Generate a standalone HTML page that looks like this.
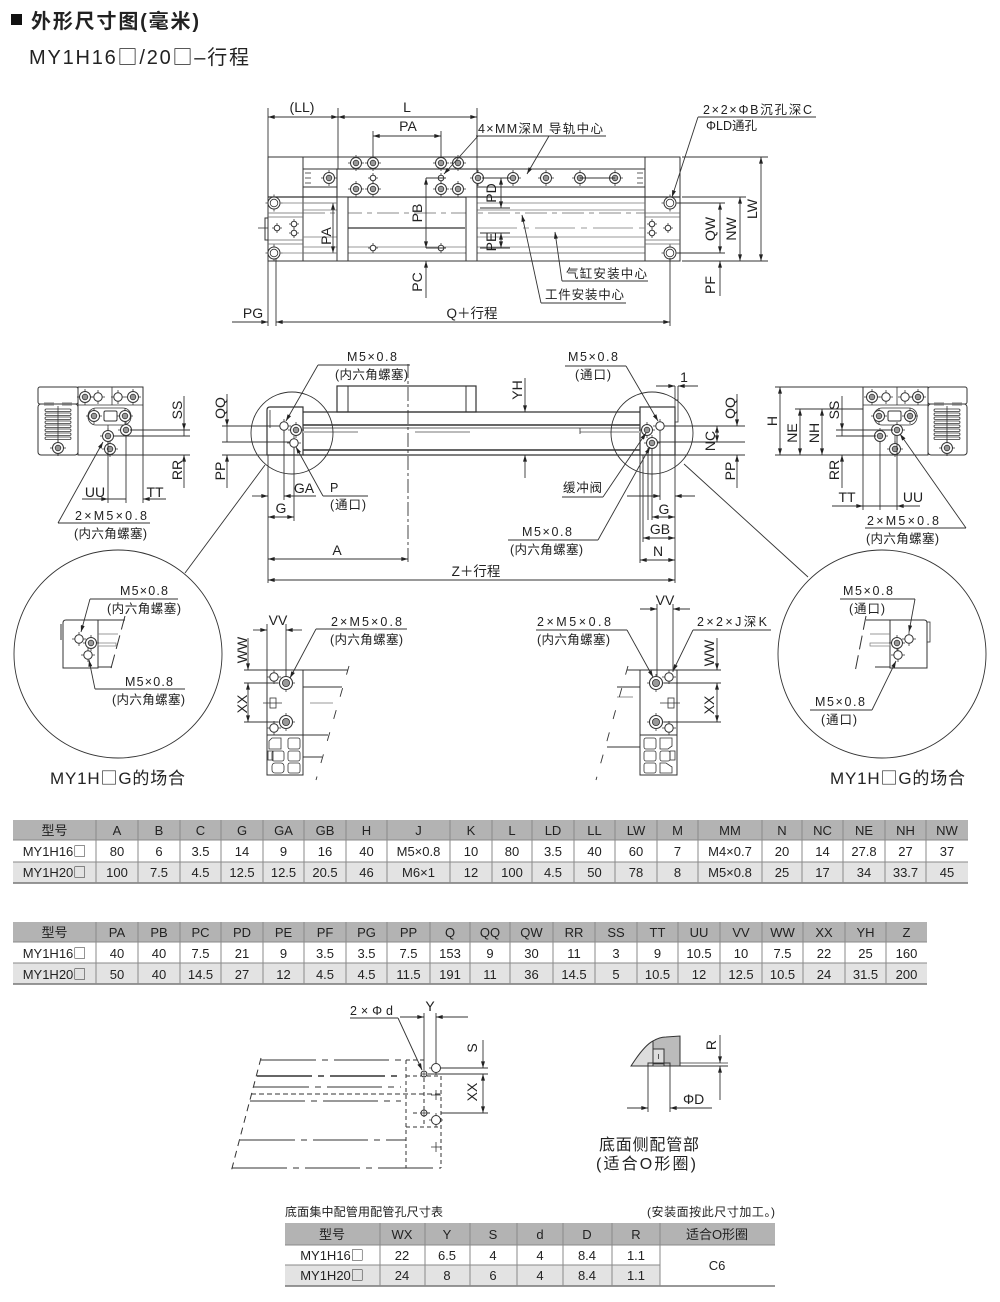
<!DOCTYPE html>
<html><head><meta charset="utf-8"><style>
html,body{margin:0;padding:0;background:#fff;}
svg{display:block;}
text{font-family:"Liberation Sans","Noto Sans CJK SC",sans-serif;fill:#222;}
.bx{font-family:"Noto Sans CJK SC",sans-serif;}
</style></head><body>
<svg width="1000" height="1302" viewBox="0 0 1000 1302" xmlns="http://www.w3.org/2000/svg">
<defs>
<marker id="a" viewBox="0 0 10 6" refX="10" refY="3" markerWidth="8" markerHeight="4" orient="auto-start-reverse" markerUnits="userSpaceOnUse"><path d="M0,0L10,3L0,6z" fill="#222"/></marker>
<g id="sk"><circle r="5.5" fill="#fff" stroke="#333" stroke-width="1"/><circle r="2.8" fill="#999" stroke="#333" stroke-width=".8"/><path d="M-8,0h2.5M5.5,0h2.5M0,-8v2.5M0,5.5v2.5" stroke="#333" stroke-width=".8"/></g>
<g id="sk2"><circle r="6.5" fill="#fff" stroke="#333" stroke-width="1.1"/><circle r="3.6" fill="#999" stroke="#333" stroke-width=".8"/><path d="M-9,0h2.5M6.5,0h2.5M0,-9v2.5M0,6.5v2.5" stroke="#333" stroke-width=".8"/></g>
<g id="ph"><circle r="4.2" fill="#fff" stroke="#333" stroke-width="1"/><path d="M-7,0h2.8M4.2,0h2.8M0,-7v2.8M0,4.2v2.8" stroke="#333" stroke-width=".8"/></g>
<g id="pd"><circle r="2.8" fill="#fff" stroke="#333" stroke-width="1"/><path d="M-5,0h2.2M2.8,0h2.2M0,-5v2.2M0,2.8v2.2" stroke="#333" stroke-width=".8"/></g>
<g id="bh"><circle r="6" fill="#fff" stroke="#333" stroke-width="1"/><circle r="3.8" fill="none" stroke="#333" stroke-width=".8"/><path d="M-8.5,0h2.5M6,0h2.5M0,-8.5v2.5M0,6v2.5" stroke="#333" stroke-width=".8"/></g>
</defs>

<!-- Header -->
<rect x="11" y="14" width="11" height="11" fill="#111"/>
<text x="31" y="28" font-size="20" font-weight="bold" textLength="168">外形尺寸图(毫米)</text>
<text x="29" y="64" font-size="20" textLength="220">MY1H16<tspan class="bx">□</tspan>/20<tspan class="bx">□</tspan>–行程</text>

<!-- ================= TOP VIEW ================= -->
<g stroke="#333" stroke-width="1" fill="none">
  <rect x="268" y="157" width="412" height="104"/>
  <line x1="303" y1="157" x2="303" y2="261"/>
  <line x1="645" y1="157" x2="645" y2="261"/>
  <line x1="268" y1="197" x2="680" y2="197" stroke-width="1.3"/>
  <line x1="303" y1="169" x2="645" y2="169"/>
  <line x1="303" y1="187" x2="645" y2="187"/>
  <line x1="303" y1="203" x2="337" y2="203" stroke="#777" stroke-width=".8"/>
  <line x1="477" y1="203" x2="645" y2="203" stroke="#777" stroke-width=".8"/>
  <line x1="303" y1="210" x2="337" y2="210" stroke="#777" stroke-width=".8"/>
  <line x1="477" y1="210" x2="645" y2="210" stroke="#777" stroke-width=".8"/>
  <line x1="348" y1="228" x2="465" y2="228" stroke-width="1.3"/>
  <line x1="477" y1="228" x2="645" y2="228" stroke="#777" stroke-width=".8" stroke-dasharray="40 6 6 6"/>
  <line x1="303" y1="213" x2="645" y2="213" stroke="#666" stroke-width=".8" stroke-dasharray="22 5 5 5"/>
  <line x1="303" y1="237" x2="337" y2="237" stroke="#777" stroke-width=".8"/>
  <line x1="477" y1="237" x2="645" y2="237" stroke="#777" stroke-width=".8"/>
  <line x1="303" y1="247" x2="645" y2="247" stroke="#777" stroke-width=".8"/>
  <line x1="303" y1="253" x2="645" y2="253" stroke="#555" stroke-width=".8"/>
  <line x1="268" y1="213" x2="303" y2="213" stroke="#666" stroke-width=".8"/>
  <line x1="268" y1="217" x2="303" y2="217" stroke="#666" stroke-width=".8"/>
  <line x1="268" y1="240" x2="303" y2="240" stroke="#666" stroke-width=".8"/>
  <line x1="268" y1="244" x2="303" y2="244" stroke="#666" stroke-width=".8"/>
  <line x1="645" y1="213" x2="680" y2="213" stroke="#666" stroke-width=".8"/>
  <line x1="645" y1="217" x2="680" y2="217" stroke="#666" stroke-width=".8"/>
  <line x1="645" y1="240" x2="680" y2="240" stroke="#666" stroke-width=".8"/>
  <line x1="645" y1="244" x2="680" y2="244" stroke="#666" stroke-width=".8"/>
  <rect x="265" y="218" width="3" height="22"/>
  <line x1="258" y1="228" x2="268" y2="228" stroke-width=".8"/>
  <line x1="305" y1="173" x2="311" y2="173" stroke-width=".8"/>
  <line x1="305" y1="178" x2="311" y2="178" stroke-width=".8"/>
  <line x1="305" y1="183" x2="311" y2="183" stroke-width=".8"/>
  <line x1="637" y1="173" x2="643" y2="173" stroke-width=".8"/>
  <line x1="637" y1="178" x2="643" y2="178" stroke-width=".8"/>
  <line x1="637" y1="183" x2="643" y2="183" stroke-width=".8"/>
  <rect x="337" y="169" width="140" height="28" fill="#fff" stroke-width="1.1"/>
  <rect x="337" y="197" width="11" height="64" fill="#fff"/>
  <rect x="466" y="197" width="11" height="64" fill="#fff"/>
</g>
<use href="#sk" x="356" y="163"/><use href="#sk" x="373" y="163"/><use href="#sk" x="441" y="163"/><use href="#sk" x="458" y="163"/>
<use href="#sk" x="356" y="189"/><use href="#sk" x="373" y="189"/><use href="#sk" x="441" y="189"/><use href="#sk" x="458" y="189"/>
<use href="#pd" x="373" y="178"/><use href="#pd" x="441" y="178"/>
<use href="#pd" x="373" y="248"/><use href="#pd" x="441" y="248"/>
<use href="#sk" x="329" y="178"/><use href="#sk" x="478" y="178"/><use href="#sk" x="513" y="178"/><use href="#sk" x="546" y="178"/><use href="#sk" x="580" y="178"/><use href="#sk" x="615" y="178"/>
<line x1="580" y1="178" x2="615" y2="178" stroke="#333" stroke-width="1"/>
<use href="#bh" x="274" y="203"/><use href="#bh" x="274" y="253"/>
<use href="#bh" x="670" y="203"/><use href="#bh" x="670" y="253"/>
<use href="#pd" x="277" y="228"/><use href="#pd" x="294" y="224"/><use href="#pd" x="294" y="233"/>
<use href="#pd" x="668" y="228"/><use href="#pd" x="652" y="224"/><use href="#pd" x="652" y="233"/>

<g stroke="#333" stroke-width=".9" fill="none">
  <line x1="268" y1="108" x2="268" y2="157"/>
  <line x1="338" y1="108" x2="338" y2="169"/>
  <line x1="477" y1="108" x2="477" y2="169"/>
  <line x1="268" y1="117" x2="338" y2="117" marker-start="url(#a)" marker-end="url(#a)"/>
  <line x1="338" y1="117" x2="477" y2="117" marker-start="url(#a)" marker-end="url(#a)"/>
  <line x1="373" y1="131" x2="373" y2="158"/>
  <line x1="441" y1="131" x2="441" y2="158"/>
  <line x1="373" y1="136" x2="441" y2="136" marker-start="url(#a)" marker-end="url(#a)"/>
  <line x1="476" y1="136" x2="606" y2="136"/>
  <line x1="478" y1="136" x2="444" y2="174" marker-end="url(#a)"/>
  <line x1="549" y1="136" x2="527" y2="174" marker-end="url(#a)"/>
  <line x1="698" y1="117" x2="816" y2="117"/>
  <line x1="698" y1="117" x2="672" y2="197" marker-end="url(#a)"/>
  <line x1="682" y1="157" x2="768" y2="157"/>
  <line x1="682" y1="197" x2="746" y2="197"/>
  <line x1="677" y1="203" x2="725" y2="203"/>
  <line x1="677" y1="253" x2="725" y2="253"/>
  <line x1="682" y1="261" x2="768" y2="261"/>
  <line x1="720" y1="203" x2="720" y2="253" marker-start="url(#a)" marker-end="url(#a)"/>
  <line x1="740" y1="197" x2="740" y2="261" marker-start="url(#a)" marker-end="url(#a)"/>
  <line x1="761" y1="157" x2="761" y2="261" marker-start="url(#a)" marker-end="url(#a)"/>
  <line x1="720" y1="296" x2="720" y2="261" marker-end="url(#a)"/>
  <line x1="333" y1="203" x2="333" y2="253" marker-start="url(#a)" marker-end="url(#a)"/>
  <line x1="280" y1="203" x2="337" y2="203" stroke="#777" stroke-width=".7"/>
  <line x1="280" y1="253" x2="337" y2="253" stroke="#777" stroke-width=".7"/>
  <line x1="426" y1="178" x2="446" y2="178"/>
  <line x1="426" y1="178" x2="426" y2="248" marker-start="url(#a)" marker-end="url(#a)"/>
  <line x1="426" y1="248" x2="446" y2="248"/>
  <line x1="426" y1="298" x2="426" y2="261" marker-end="url(#a)"/>
  <line x1="482" y1="178" x2="510" y2="178"/>
  <line x1="480" y1="208" x2="510" y2="208"/>
  <line x1="480" y1="233" x2="510" y2="233"/>
  <line x1="480" y1="248" x2="510" y2="248"/>
  <line x1="501" y1="178" x2="501" y2="208" marker-start="url(#a)" marker-end="url(#a)"/>
  <line x1="501" y1="233" x2="501" y2="248" marker-start="url(#a)" marker-end="url(#a)"/>
  <line x1="562" y1="281" x2="648" y2="281"/>
  <line x1="562" y1="281" x2="555" y2="232" marker-end="url(#a)"/>
  <line x1="541" y1="303" x2="626" y2="303"/>
  <line x1="541" y1="303" x2="522" y2="215" marker-end="url(#a)"/>
  <line x1="268" y1="261" x2="268" y2="326"/>
  <line x1="276" y1="258" x2="276" y2="326"/>
  <line x1="670" y1="258" x2="670" y2="326"/>
  <line x1="276" y1="322" x2="670" y2="322" marker-start="url(#a)" marker-end="url(#a)"/>
  <line x1="232" y1="322" x2="268" y2="322" marker-end="url(#a)"/>
</g>
<g font-size="14" text-anchor="middle">
  <text x="302" y="112">(LL)</text>
  <text x="407" y="112">L</text>
  <text x="408" y="131">PA</text>
  <text x="472" y="318" font-size="13.5">Q＋行程</text>
  <text x="253" y="318">PG</text>
  <text transform="translate(331,236) rotate(-90)">PA</text>
  <text transform="translate(422,213) rotate(-90)">PB</text>
  <text transform="translate(422,282) rotate(-90)">PC</text>
  <text transform="translate(496,193) rotate(-90)">PD</text>
  <text transform="translate(496,242) rotate(-90)">PE</text>
  <text transform="translate(715,229) rotate(-90)">QW</text>
  <text transform="translate(736,229) rotate(-90)">NW</text>
  <text transform="translate(757,209) rotate(-90)">LW</text>
  <text transform="translate(715,285) rotate(-90)">PF</text>
</g>
<g font-size="12.5">
  <text x="478" y="133" textLength="125">4×MM深M 导轨中心</text>
  <text x="703" y="114" textLength="109">2×2×ΦB沉孔深C</text>
  <text x="706" y="130" textLength="51">ΦLD通孔</text>
  <text x="566" y="278" textLength="81">气缸安装中心</text>
  <text x="545" y="299" textLength="79">工件安装中心</text>
</g>

<!-- ================= SIDE VIEW ================= -->
<g stroke="#333" stroke-width="1" fill="none">
  <rect x="337" y="386" width="139" height="26" fill="#fff" stroke-width="1.2"/>
  <line x1="348" y1="386" x2="348" y2="412"/>
  <line x1="466" y1="386" x2="466" y2="412"/>
  <path d="M267,455 V410 Q267,407 270,407 H303 V455 Z" fill="#fff" stroke-width="1.2"/>
  <line x1="270" y1="410" x2="270" y2="428" stroke-width=".8"/>
  <rect x="640" y="407" width="35" height="48" fill="#fff" stroke-width="1.2"/>
  <line x1="303" y1="412" x2="640" y2="412" stroke-width="1.2"/>
  <line x1="303" y1="425" x2="640" y2="425" stroke-width="1.6"/>
  <line x1="303" y1="428" x2="640" y2="428" stroke-width=".8"/>
  <line x1="303" y1="450" x2="640" y2="450" stroke-width="1.6"/>
  <line x1="303" y1="455" x2="640" y2="455" stroke-width="1.2"/>
  <line x1="303" y1="432" x2="358" y2="432" stroke="#bbb" stroke-width="2"/>
  <line x1="415" y1="432" x2="470" y2="432" stroke="#bbb" stroke-width="2"/>
  <line x1="580" y1="432" x2="640" y2="432" stroke="#bbb" stroke-width="2"/>
  <line x1="580" y1="428" x2="580" y2="434" stroke-width=".8"/>
  <rect x="675" y="400" width="3" height="22" stroke-width=".8"/>
  <circle cx="292" cy="433" r="41" stroke-width=".9"/>
  <circle cx="652" cy="433" r="41" stroke-width=".9"/>
  <line x1="265" y1="465" x2="185" y2="573" stroke-width=".9"/>
  <line x1="684" y1="464" x2="808" y2="577" stroke-width=".9"/>
</g>
<use href="#ph" x="284" y="426"/><use href="#sk" x="296" y="430"/><use href="#ph" x="294" y="443"/>
<use href="#ph" x="660" y="426"/><use href="#sk" x="647" y="430"/><use href="#sk" x="652" y="443"/>

<g stroke="#333" stroke-width=".9" fill="none">
  <line x1="408" y1="364" x2="408" y2="562" stroke-dasharray="14 3 3 3"/>
  <line x1="525" y1="378" x2="525" y2="412" marker-end="url(#a)"/>
  <line x1="525" y1="478" x2="525" y2="455" marker-end="url(#a)"/>
  <line x1="675" y1="386" x2="675" y2="400"/>
  <line x1="678" y1="386" x2="678" y2="400"/>
  <line x1="656" y1="386" x2="675" y2="386" marker-end="url(#a)"/>
  <line x1="698" y1="386" x2="678" y2="386" marker-end="url(#a)"/>
  <line x1="222" y1="426" x2="280" y2="426"/>
  <line x1="222" y1="442" x2="290" y2="442"/>
  <line x1="222" y1="455" x2="267" y2="455"/>
  <line x1="227" y1="394" x2="227" y2="426" marker-end="url(#a)"/>
  <line x1="227" y1="426" x2="227" y2="442"/>
  <line x1="227" y1="488" x2="227" y2="455" marker-end="url(#a)"/>
  <line x1="268" y1="455" x2="268" y2="583"/>
  <line x1="284" y1="431" x2="284" y2="500"/>
  <line x1="294" y1="448" x2="294" y2="521"/>
  <line x1="252" y1="496" x2="268" y2="496" marker-end="url(#a)"/>
  <line x1="316" y1="496" x2="284" y2="496" marker-end="url(#a)"/>
  <line x1="268" y1="517" x2="294" y2="517" marker-start="url(#a)" marker-end="url(#a)"/>
  <line x1="323" y1="496" x2="368" y2="496"/>
  <line x1="323" y1="496" x2="296" y2="447" marker-end="url(#a)"/>
  <line x1="318" y1="365" x2="410" y2="365"/>
  <line x1="318" y1="365" x2="286" y2="421" marker-end="url(#a)"/>
  <line x1="268" y1="559" x2="408" y2="559" marker-start="url(#a)" marker-end="url(#a)"/>
  <line x1="268" y1="580" x2="675" y2="580" marker-start="url(#a)" marker-end="url(#a)"/>
  <line x1="664" y1="426" x2="745" y2="426"/>
  <line x1="657" y1="442" x2="745" y2="442"/>
  <line x1="675" y1="455" x2="745" y2="455"/>
  <line x1="737" y1="394" x2="737" y2="426" marker-end="url(#a)"/>
  <line x1="717" y1="426" x2="717" y2="442" marker-start="url(#a)" marker-end="url(#a)"/>
  <line x1="737" y1="488" x2="737" y2="455" marker-end="url(#a)"/>
  <line x1="640" y1="455" x2="640" y2="563"/>
  <line x1="643" y1="455" x2="643" y2="542"/>
  <line x1="648" y1="448" x2="648" y2="520"/>
  <line x1="652" y1="448" x2="652" y2="520"/>
  <line x1="660" y1="431" x2="660" y2="500"/>
  <line x1="675" y1="422" x2="675" y2="583"/>
  <line x1="627" y1="496" x2="660" y2="496" marker-end="url(#a)"/>
  <line x1="695" y1="496" x2="675" y2="496" marker-end="url(#a)"/>
  <line x1="652" y1="517" x2="675" y2="517" marker-start="url(#a)" marker-end="url(#a)"/>
  <line x1="643" y1="538" x2="675" y2="538" marker-start="url(#a)" marker-end="url(#a)"/>
  <line x1="640" y1="560" x2="675" y2="560" marker-start="url(#a)" marker-end="url(#a)"/>
  <line x1="562" y1="497" x2="603" y2="497"/>
  <line x1="603" y1="497" x2="646" y2="433" marker-end="url(#a)"/>
  <line x1="508" y1="540" x2="598" y2="540"/>
  <line x1="598" y1="540" x2="650" y2="447" marker-end="url(#a)"/>
  <line x1="565" y1="366" x2="626" y2="366"/>
  <line x1="626" y1="366" x2="658" y2="421" marker-end="url(#a)"/>
</g>
<g font-size="14" text-anchor="middle">
  <text transform="translate(522,390) rotate(-90)">YH</text>
  <text x="684" y="382">1</text>
  <text transform="translate(225,408) rotate(-90)">QQ</text>
  <text transform="translate(225,471) rotate(-90)">PP</text>
  <text transform="translate(735,408) rotate(-90)">QQ</text>
  <text transform="translate(715,441) rotate(-90)">NC</text>
  <text transform="translate(735,471) rotate(-90)">PP</text>
  <text x="304" y="493">GA</text>
  <text x="281" y="513">G</text>
  <text x="337" y="555">A</text>
  <text x="476" y="576" font-size="13.5">Z＋行程</text>
  <text x="664" y="514">G</text>
  <text x="660" y="534">GB</text>
  <text x="658" y="556">N</text>
</g>
<g font-size="12.5">
  <text x="347" y="361" textLength="50">M5×0.8</text>
  <text x="335" y="379" textLength="73">(内六角螺塞)</text>
  <text x="330" y="492">P</text>
  <text x="330" y="509" textLength="36">(通口)</text>
  <text x="568" y="361" textLength="50">M5×0.8</text>
  <text x="575" y="379" textLength="36">(通口)</text>
  <text x="563" y="492" textLength="39">缓冲阀</text>
  <text x="522" y="536" textLength="50">M5×0.8</text>
  <text x="510" y="554" textLength="73">(内六角螺塞)</text>
</g>

<!-- ===== Left end view ===== -->
<g stroke="#333" stroke-width="1" fill="none">
  <rect x="38" y="387" width="40" height="17" rx="2" fill="#fff"/>
  <rect x="38" y="404" width="40" height="51" rx="3" fill="#fff"/>
  <rect x="44" y="402.5" width="10" height="3" fill="#777" stroke="none"/>
  <rect x="62" y="402.5" width="10" height="3" fill="#777" stroke="none"/>
  <line x1="58" y1="406" x2="58" y2="455" stroke-width=".8"/>
  <rect x="45" y="409" width="26" height="2.5" rx="1.2" stroke-width=".8"/>
  <rect x="45" y="413" width="26" height="2.5" rx="1.2" stroke-width=".8"/>
  <rect x="45" y="417" width="26" height="2.5" rx="1.2" stroke-width=".8"/>
  <rect x="45" y="421" width="26" height="2.5" rx="1.2" stroke-width=".8"/>
  <rect x="45" y="425" width="26" height="2.5" rx="1.2" stroke-width=".8"/>
  <rect x="45" y="429" width="26" height="2.5" rx="1.2" stroke-width=".8"/>
  <rect x="45" y="433" width="26" height="2.5" rx="1.2" stroke-width=".8"/>
  <rect x="45" y="437" width="26" height="2.5" rx="1.2" stroke-width=".8"/>
  <rect x="78" y="387" width="65" height="68" fill="#fff"/>
  <line x1="112" y1="387" x2="112" y2="405" stroke-width=".8"/>
  <line x1="78" y1="405" x2="143" y2="405" stroke-width=".8"/>
  <rect x="88" y="408" width="43" height="17" rx="8" stroke-width=".8"/>
  <rect x="104" y="411" width="13" height="10" rx="1.5"/>
  <line x1="108" y1="425" x2="108" y2="455" stroke-width=".8"/>
</g>
<use href="#sk" x="58" y="448"/>
<use href="#sk" x="85" y="397"/><use href="#ph" x="98" y="397"/><use href="#ph" x="118" y="397"/><use href="#sk" x="133" y="397"/>
<use href="#sk" x="94" y="416"/><use href="#sk" x="125" y="416"/>
<use href="#sk" x="108" y="436"/><use href="#sk" x="126" y="430"/><use href="#sk" x="110" y="449"/>
<g stroke="#333" stroke-width=".9" fill="none">
  <line x1="130" y1="430" x2="190" y2="430"/>
  <line x1="114" y1="436" x2="190" y2="436"/>
  <line x1="143" y1="455" x2="190" y2="455"/>
  <line x1="184" y1="396" x2="184" y2="430" marker-end="url(#a)"/>
  <line x1="184" y1="430" x2="184" y2="436"/>
  <line x1="184" y1="488" x2="184" y2="455" marker-end="url(#a)"/>
  <line x1="108" y1="442" x2="108" y2="503"/>
  <line x1="126" y1="436" x2="126" y2="503"/>
  <line x1="143" y1="455" x2="143" y2="503"/>
  <line x1="82" y1="499" x2="108" y2="499" marker-end="url(#a)"/>
  <line x1="108" y1="499" x2="126" y2="499"/>
  <line x1="166" y1="499" x2="143" y2="499" marker-end="url(#a)"/>
  <line x1="58" y1="523" x2="150" y2="523"/>
  <line x1="58" y1="523" x2="103" y2="442" marker-end="url(#a)"/>
</g>
<g font-size="14" text-anchor="middle">
  <text transform="translate(182,410) rotate(-90)">SS</text>
  <text transform="translate(182,470) rotate(-90)">RR</text>
  <text x="95" y="497">UU</text>
  <text x="155" y="497">TT</text>
</g>
<g font-size="12.5">
  <text x="75" y="520" textLength="72">2×M5×0.8</text>
  <text x="74" y="538" textLength="73">(内六角螺塞)</text>
</g>

<!-- ===== Right end view ===== -->
<g stroke="#333" stroke-width="1" fill="none">
  <rect x="863" y="387" width="65" height="68" fill="#fff"/>
  <line x1="897" y1="387" x2="897" y2="405" stroke-width=".8"/>
  <line x1="863" y1="405" x2="928" y2="405" stroke-width=".8"/>
  <rect x="874" y="408" width="43" height="17" rx="8" stroke-width=".8"/>
  <rect x="888" y="411" width="13" height="10" rx="1.5"/>
  <line x1="895" y1="425" x2="895" y2="455" stroke-width=".8"/>
  <rect x="928" y="387" width="39" height="17" rx="2" fill="#fff"/>
  <rect x="928" y="404" width="39" height="51" rx="3" fill="#fff"/>
  <rect x="934" y="402.5" width="10" height="3" fill="#777" stroke="none"/>
  <rect x="952" y="402.5" width="10" height="3" fill="#777" stroke="none"/>
  <line x1="947" y1="406" x2="947" y2="455" stroke-width=".8"/>
  <rect x="934" y="409" width="26" height="2.5" rx="1.2" stroke-width=".8"/>
  <rect x="934" y="413" width="26" height="2.5" rx="1.2" stroke-width=".8"/>
  <rect x="934" y="417" width="26" height="2.5" rx="1.2" stroke-width=".8"/>
  <rect x="934" y="421" width="26" height="2.5" rx="1.2" stroke-width=".8"/>
  <rect x="934" y="425" width="26" height="2.5" rx="1.2" stroke-width=".8"/>
  <rect x="934" y="429" width="26" height="2.5" rx="1.2" stroke-width=".8"/>
  <rect x="934" y="433" width="26" height="2.5" rx="1.2" stroke-width=".8"/>
  <rect x="934" y="437" width="26" height="2.5" rx="1.2" stroke-width=".8"/>
</g>
<use href="#sk" x="947" y="448"/>
<use href="#sk" x="872" y="397"/><use href="#ph" x="886" y="397"/><use href="#ph" x="905" y="397"/><use href="#sk" x="918" y="397"/>
<use href="#sk" x="879" y="416"/><use href="#sk" x="910" y="416"/>
<use href="#sk" x="880" y="436"/><use href="#sk" x="897" y="430"/><use href="#sk" x="895" y="449"/>
<g stroke="#333" stroke-width=".9" fill="none">
  <line x1="775" y1="387" x2="863" y2="387"/>
  <line x1="795" y1="409" x2="863" y2="409"/>
  <line x1="775" y1="455" x2="863" y2="455"/>
  <line x1="836" y1="430" x2="893" y2="430"/>
  <line x1="836" y1="436" x2="876" y2="436"/>
  <line x1="780" y1="387" x2="780" y2="455" marker-start="url(#a)" marker-end="url(#a)"/>
  <line x1="800" y1="409" x2="800" y2="455" marker-start="url(#a)" marker-end="url(#a)"/>
  <line x1="822" y1="409" x2="822" y2="455" marker-start="url(#a)" marker-end="url(#a)"/>
  <line x1="842" y1="396" x2="842" y2="430" marker-end="url(#a)"/>
  <line x1="842" y1="430" x2="842" y2="436"/>
  <line x1="842" y1="488" x2="842" y2="455" marker-end="url(#a)"/>
  <line x1="863" y1="455" x2="863" y2="510"/>
  <line x1="880" y1="442" x2="880" y2="510"/>
  <line x1="897" y1="436" x2="897" y2="510"/>
  <line x1="832" y1="506" x2="863" y2="506" marker-end="url(#a)"/>
  <line x1="863" y1="506" x2="897" y2="506"/>
  <line x1="920" y1="506" x2="897" y2="506" marker-end="url(#a)"/>
  <line x1="865" y1="528" x2="966" y2="528"/>
  <line x1="966" y1="528" x2="900" y2="434" marker-end="url(#a)"/>
</g>
<g font-size="14" text-anchor="middle">
  <text transform="translate(777,421) rotate(-90)">H</text>
  <text transform="translate(797,433) rotate(-90)">NE</text>
  <text transform="translate(819,433) rotate(-90)">NH</text>
  <text transform="translate(839,410) rotate(-90)">SS</text>
  <text transform="translate(839,470) rotate(-90)">RR</text>
  <text x="847" y="502">TT</text>
  <text x="913" y="502">UU</text>
</g>
<g font-size="12.5">
  <text x="867" y="525" textLength="72">2×M5×0.8</text>
  <text x="866" y="543" textLength="73">(内六角螺塞)</text>
</g>

<!-- ===== Lower-left circle ===== -->
<g stroke="#333" stroke-width="1" fill="none">
  <circle cx="118" cy="654" r="104" stroke-width=".9"/>
  <path d="M63,668 V623 Q63,620 66,620 H98 V668 Z" fill="#fff"/>
  <line x1="61" y1="624" x2="61" y2="640"/>
  <line x1="98" y1="620" x2="125" y2="620"/>
  <line x1="98" y1="634" x2="118" y2="634" stroke="#777" stroke-width=".8"/>
  <rect x="98" y="643" width="18" height="3" stroke="#777" stroke-width=".7"/>
  <line x1="98" y1="667" x2="112" y2="667"/>
  <line x1="125" y1="616" x2="110" y2="672" stroke-dasharray="14 6"/>
  <line x1="90" y1="599" x2="178" y2="599" stroke-width=".9"/>
  <line x1="90" y1="599" x2="81" y2="632" stroke-width=".9" marker-end="url(#a)"/>
  <line x1="95" y1="689" x2="185" y2="689" stroke-width=".9"/>
  <line x1="95" y1="689" x2="89" y2="660" stroke-width=".9" marker-end="url(#a)"/>
</g>
<use href="#ph" x="79" y="639"/><use href="#sk" x="91" y="643"/><use href="#ph" x="88" y="655"/>
<g font-size="12.5">
  <text x="120" y="595" textLength="48">M5×0.8</text>
  <text x="107" y="613" textLength="74">(内六角螺塞)</text>
  <text x="125" y="686" textLength="48">M5×0.8</text>
  <text x="112" y="704" textLength="73">(内六角螺塞)</text>
</g>
<text x="50" y="784" font-size="17" textLength="135">MY1H<tspan class="bx">□</tspan>G的场合</text>

<!-- ===== Lower-right circle ===== -->
<g stroke="#333" stroke-width="1" fill="none">
  <circle cx="882" cy="654" r="104" stroke-width=".9"/>
  <path d="M927,668 V623 Q927,620 924,620 H890 V668 Z" fill="#fff"/>
  <rect x="927" y="622" width="3" height="20" stroke-width=".8"/>
  <line x1="890" y1="620" x2="866" y2="620"/>
  <line x1="890" y1="634" x2="870" y2="634" stroke="#777" stroke-width=".8"/>
  <rect x="870" y="643" width="20" height="3" stroke="#777" stroke-width=".7"/>
  <line x1="890" y1="667" x2="875" y2="667"/>
  <line x1="866" y1="616" x2="855" y2="672" stroke-dasharray="14 6"/>
  <line x1="840" y1="599" x2="915" y2="599" stroke-width=".9"/>
  <line x1="915" y1="599" x2="909" y2="632" stroke-width=".9" marker-end="url(#a)"/>
  <line x1="810" y1="710" x2="872" y2="710" stroke-width=".9"/>
  <line x1="872" y1="710" x2="896" y2="661" stroke-width=".9" marker-end="url(#a)"/>
</g>
<use href="#ph" x="909" y="639"/><use href="#sk" x="897" y="643"/><use href="#ph" x="898" y="655"/>
<g font-size="12.5">
  <text x="843" y="595" textLength="50">M5×0.8</text>
  <text x="849" y="613" textLength="36">(通口)</text>
  <text x="815" y="706" textLength="50">M5×0.8</text>
  <text x="821" y="724" textLength="36">(通口)</text>
</g>
<text x="830" y="784" font-size="17" textLength="135">MY1H<tspan class="bx">□</tspan>G的场合</text>

<!-- ===== Lower-left end view ===== -->
<g stroke="#333" stroke-width="1" fill="none">
  <rect x="267" y="670" width="36" height="105" fill="#fff"/>
  <line x1="267" y1="735" x2="303" y2="735"/>
  <path d="M272,738 h9 v11 h-12 v-8 z" stroke-width=".8"/>
  <rect x="288" y="738" width="12" height="11" rx="2" stroke-width=".8"/>
  <rect x="272" y="751" width="12" height="10" rx="2" stroke-width=".8"/>
  <rect x="288" y="751" width="12" height="10" rx="2" stroke-width=".8"/>
  <rect x="272" y="763" width="12" height="10" rx="3" stroke-width=".8"/>
  <rect x="288" y="763" width="12" height="10" rx="2" stroke-width=".8"/>
  <rect x="268" y="751" width="5" height="9" stroke-width=".8"/>
  <rect x="270" y="698" width="6" height="10" stroke-width=".8"/>
  <line x1="263" y1="703" x2="282" y2="703" stroke-width=".7"/>
  <line x1="303" y1="670" x2="348" y2="670"/>
  <line x1="303" y1="687" x2="342" y2="687"/>
  <line x1="310" y1="703" x2="333" y2="703" stroke="#777" stroke-width=".8"/>
  <line x1="303" y1="735" x2="328" y2="735"/>
  <line x1="303" y1="757" x2="322" y2="757"/>
  <line x1="349" y1="666" x2="316" y2="780" stroke-dasharray="9 14" stroke-width=".9"/>
</g>
<use href="#ph" x="274" y="677"/><use href="#sk2" x="286" y="683"/><use href="#sk2" x="286" y="722"/><use href="#ph" x="274" y="728"/>
<g stroke="#333" stroke-width=".9" fill="none">
  <line x1="267" y1="624" x2="267" y2="670"/>
  <line x1="286" y1="624" x2="286" y2="676"/>
  <line x1="253" y1="630" x2="267" y2="630" marker-end="url(#a)"/>
  <line x1="302" y1="630" x2="286" y2="630" marker-end="url(#a)"/>
  <line x1="244" y1="683" x2="278" y2="683"/>
  <line x1="244" y1="722" x2="278" y2="722"/>
  <line x1="244" y1="670" x2="267" y2="670"/>
  <line x1="248" y1="638" x2="248" y2="670" marker-end="url(#a)"/>
  <line x1="248" y1="683" x2="248" y2="722" marker-start="url(#a)" marker-end="url(#a)"/>
  <line x1="316" y1="629" x2="407" y2="629"/>
  <line x1="316" y1="629" x2="290" y2="678" marker-end="url(#a)"/>
</g>
<g font-size="14" text-anchor="middle">
  <text x="278" y="625">VV</text>
  <text transform="translate(247,650) rotate(-90)">WW</text>
  <text transform="translate(247,704) rotate(-90)">XX</text>
</g>
<g font-size="12.5">
  <text x="331" y="626" textLength="71">2×M5×0.8</text>
  <text x="330" y="644" textLength="73">(内六角螺塞)</text>
</g>

<!-- ===== Lower-right end view ===== -->
<g stroke="#333" stroke-width="1" fill="none">
  <rect x="640" y="670" width="37" height="105" fill="#fff"/>
  <line x1="640" y1="735" x2="677" y2="735"/>
  <rect x="644" y="738" width="12" height="11" rx="2" stroke-width=".8"/>
  <path d="M660,738 h12 v8 l-4,3 h-8 z" stroke-width=".8"/>
  <rect x="644" y="751" width="12" height="10" rx="2" stroke-width=".8"/>
  <rect x="660" y="751" width="10" height="10" rx="2" stroke-width=".8"/>
  <rect x="644" y="763" width="12" height="10" rx="2" stroke-width=".8"/>
  <path d="M660,763 h6 l6,4 v6 h-12 z" stroke-width=".8"/>
  <rect x="670" y="751" width="5" height="9" stroke-width=".8"/>
  <rect x="668" y="698" width="6" height="10" stroke-width=".8"/>
  <line x1="660" y1="703" x2="680" y2="703" stroke-width=".7"/>
  <line x1="640" y1="670" x2="627" y2="670"/>
  <line x1="640" y1="687" x2="617" y2="687"/>
  <line x1="633" y1="697" x2="617" y2="697" stroke="#777" stroke-width=".8"/>
  <line x1="640" y1="747" x2="607" y2="747"/>
  <line x1="628" y1="666" x2="596" y2="780" stroke-dasharray="9 14" stroke-width=".9"/>
</g>
<use href="#sk2" x="656" y="683"/><use href="#ph" x="669" y="677"/><use href="#sk2" x="656" y="722"/><use href="#ph" x="669" y="728"/>
<g stroke="#333" stroke-width=".9" fill="none">
  <line x1="657" y1="604" x2="657" y2="676"/>
  <line x1="673" y1="604" x2="673" y2="672"/>
  <line x1="640" y1="609" x2="657" y2="609" marker-end="url(#a)"/>
  <line x1="690" y1="609" x2="673" y2="609" marker-end="url(#a)"/>
  <line x1="677" y1="670" x2="721" y2="670"/>
  <line x1="664" y1="683" x2="721" y2="683"/>
  <line x1="664" y1="722" x2="721" y2="722"/>
  <line x1="717" y1="638" x2="717" y2="670" marker-end="url(#a)"/>
  <line x1="717" y1="683" x2="717" y2="722" marker-start="url(#a)" marker-end="url(#a)"/>
  <line x1="536" y1="630" x2="627" y2="630"/>
  <line x1="627" y1="630" x2="653" y2="677" marker-end="url(#a)"/>
  <line x1="693" y1="630" x2="771" y2="630"/>
  <line x1="693" y1="630" x2="673" y2="671" marker-end="url(#a)"/>
</g>
<g font-size="14" text-anchor="middle">
  <text x="665" y="605">VV</text>
  <text transform="translate(714,653) rotate(-90)">WW</text>
  <text transform="translate(714,705) rotate(-90)">XX</text>
</g>
<g font-size="12.5">
  <text x="537" y="626" textLength="74">2×M5×0.8</text>
  <text x="537" y="644" textLength="73">(内六角螺塞)</text>
  <text x="697" y="626" textLength="70">2×2×J深K</text>
</g>

<!-- ================= TABLE 1 ================= -->
<g>
  <rect x="13" y="820" width="955" height="20" fill="#b3b3b3"/>
  <rect x="13" y="840" width="955" height="22" fill="#fff"/>
  <rect x="13" y="862" width="955" height="21" fill="#e3e3e3"/>
  <g stroke="#8a8a8a" stroke-width="1">
    <line x1="13" y1="840" x2="968" y2="840"/>
    <line x1="13" y1="862" x2="968" y2="862"/>
    <line x1="13" y1="883" x2="968" y2="883" stroke="#777" stroke-width="1.4"/>
    <line x1="96" y1="820" x2="96" y2="883"/><line x1="138" y1="820" x2="138" y2="883"/><line x1="180" y1="820" x2="180" y2="883"/><line x1="221" y1="820" x2="221" y2="883"/><line x1="263" y1="820" x2="263" y2="883"/><line x1="304" y1="820" x2="304" y2="883"/><line x1="346" y1="820" x2="346" y2="883"/><line x1="387" y1="820" x2="387" y2="883"/><line x1="450" y1="820" x2="450" y2="883"/><line x1="492" y1="820" x2="492" y2="883"/><line x1="532" y1="820" x2="532" y2="883"/><line x1="574" y1="820" x2="574" y2="883"/><line x1="615" y1="820" x2="615" y2="883"/><line x1="657" y1="820" x2="657" y2="883"/><line x1="698" y1="820" x2="698" y2="883"/><line x1="762" y1="820" x2="762" y2="883"/><line x1="802" y1="820" x2="802" y2="883"/><line x1="843" y1="820" x2="843" y2="883"/><line x1="885" y1="820" x2="885" y2="883"/><line x1="926" y1="820" x2="926" y2="883"/>
  </g>
  <g font-size="13" text-anchor="middle">
    <text x="54.5" y="835">型号</text><text x="117" y="835">A</text><text x="159" y="835">B</text><text x="200.5" y="835">C</text><text x="242" y="835">G</text><text x="283.5" y="835">GA</text><text x="325" y="835">GB</text><text x="366.5" y="835">H</text><text x="418.5" y="835">J</text><text x="471" y="835">K</text><text x="512" y="835">L</text><text x="553" y="835">LD</text><text x="594.5" y="835">LL</text><text x="636" y="835">LW</text><text x="677.5" y="835">M</text><text x="730" y="835">MM</text><text x="782" y="835">N</text><text x="822.5" y="835">NC</text><text x="864" y="835">NE</text><text x="905.5" y="835">NH</text><text x="947" y="835">NW</text>
    <text x="54.5" y="856">MY1H16<tspan class="bx">□</tspan></text><text x="117" y="856">80</text><text x="159" y="856">6</text><text x="200.5" y="856">3.5</text><text x="242" y="856">14</text><text x="283.5" y="856">9</text><text x="325" y="856">16</text><text x="366.5" y="856">40</text><text x="418.5" y="856">M5×0.8</text><text x="471" y="856">10</text><text x="512" y="856">80</text><text x="553" y="856">3.5</text><text x="594.5" y="856">40</text><text x="636" y="856">60</text><text x="677.5" y="856">7</text><text x="730" y="856">M4×0.7</text><text x="782" y="856">20</text><text x="822.5" y="856">14</text><text x="864" y="856">27.8</text><text x="905.5" y="856">27</text><text x="947" y="856">37</text>
    <text x="54.5" y="877">MY1H20<tspan class="bx">□</tspan></text><text x="117" y="877">100</text><text x="159" y="877">7.5</text><text x="200.5" y="877">4.5</text><text x="242" y="877">12.5</text><text x="283.5" y="877">12.5</text><text x="325" y="877">20.5</text><text x="366.5" y="877">46</text><text x="418.5" y="877">M6×1</text><text x="471" y="877">12</text><text x="512" y="877">100</text><text x="553" y="877">4.5</text><text x="594.5" y="877">50</text><text x="636" y="877">78</text><text x="677.5" y="877">8</text><text x="730" y="877">M5×0.8</text><text x="782" y="877">25</text><text x="822.5" y="877">17</text><text x="864" y="877">34</text><text x="905.5" y="877">33.7</text><text x="947" y="877">45</text>
  </g>
</g>

<!-- ================= TABLE 2 ================= -->
<g>
  <rect x="13" y="922" width="914" height="20" fill="#b3b3b3"/>
  <rect x="13" y="942" width="914" height="21" fill="#fff"/>
  <rect x="13" y="963" width="914" height="21" fill="#e3e3e3"/>
  <g stroke="#8a8a8a" stroke-width="1">
    <line x1="13" y1="942" x2="927" y2="942"/>
    <line x1="13" y1="963" x2="927" y2="963"/>
    <line x1="13" y1="984" x2="927" y2="984" stroke="#777" stroke-width="1.4"/>
    <line x1="96" y1="922" x2="96" y2="984"/><line x1="138" y1="922" x2="138" y2="984"/><line x1="180" y1="922" x2="180" y2="984"/><line x1="221" y1="922" x2="221" y2="984"/><line x1="263" y1="922" x2="263" y2="984"/><line x1="304" y1="922" x2="304" y2="984"/><line x1="346" y1="922" x2="346" y2="984"/><line x1="387" y1="922" x2="387" y2="984"/><line x1="430" y1="922" x2="430" y2="984"/><line x1="470" y1="922" x2="470" y2="984"/><line x1="510" y1="922" x2="510" y2="984"/><line x1="553" y1="922" x2="553" y2="984"/><line x1="595" y1="922" x2="595" y2="984"/><line x1="637" y1="922" x2="637" y2="984"/><line x1="678" y1="922" x2="678" y2="984"/><line x1="720" y1="922" x2="720" y2="984"/><line x1="762" y1="922" x2="762" y2="984"/><line x1="803" y1="922" x2="803" y2="984"/><line x1="845" y1="922" x2="845" y2="984"/><line x1="886" y1="922" x2="886" y2="984"/>
  </g>
  <g font-size="13" text-anchor="middle">
    <text x="54.5" y="937">型号</text><text x="117" y="937">PA</text><text x="159" y="937">PB</text><text x="200.5" y="937">PC</text><text x="242" y="937">PD</text><text x="283.5" y="937">PE</text><text x="325" y="937">PF</text><text x="366.5" y="937">PG</text><text x="408.5" y="937">PP</text><text x="450" y="937">Q</text><text x="490" y="937">QQ</text><text x="531.5" y="937">QW</text><text x="574" y="937">RR</text><text x="616" y="937">SS</text><text x="657.5" y="937">TT</text><text x="699" y="937">UU</text><text x="741" y="937">VV</text><text x="782.5" y="937">WW</text><text x="824" y="937">XX</text><text x="865.5" y="937">YH</text><text x="906.5" y="937">Z</text>
    <text x="54.5" y="958">MY1H16<tspan class="bx">□</tspan></text><text x="117" y="958">40</text><text x="159" y="958">40</text><text x="200.5" y="958">7.5</text><text x="242" y="958">21</text><text x="283.5" y="958">9</text><text x="325" y="958">3.5</text><text x="366.5" y="958">3.5</text><text x="408.5" y="958">7.5</text><text x="450" y="958">153</text><text x="490" y="958">9</text><text x="531.5" y="958">30</text><text x="574" y="958">11</text><text x="616" y="958">3</text><text x="657.5" y="958">9</text><text x="699" y="958">10.5</text><text x="741" y="958">10</text><text x="782.5" y="958">7.5</text><text x="824" y="958">22</text><text x="865.5" y="958">25</text><text x="906.5" y="958">160</text>
    <text x="54.5" y="979">MY1H20<tspan class="bx">□</tspan></text><text x="117" y="979">50</text><text x="159" y="979">40</text><text x="200.5" y="979">14.5</text><text x="242" y="979">27</text><text x="283.5" y="979">12</text><text x="325" y="979">4.5</text><text x="366.5" y="979">4.5</text><text x="408.5" y="979">11.5</text><text x="450" y="979">191</text><text x="490" y="979">11</text><text x="531.5" y="979">36</text><text x="574" y="979">14.5</text><text x="616" y="979">5</text><text x="657.5" y="979">10.5</text><text x="699" y="979">12</text><text x="741" y="979">12.5</text><text x="782.5" y="979">10.5</text><text x="824" y="979">24</text><text x="865.5" y="979">31.5</text><text x="906.5" y="979">200</text>
  </g>
</g>

<!-- ================= BOTTOM DRAWING ================= -->
<g stroke="#333" stroke-width="1" fill="none">
  <line x1="261" y1="1060" x2="406" y2="1060" stroke-dasharray="55 6 6 6"/>
  <line x1="257" y1="1076" x2="401" y2="1076" stroke-width="1.5" stroke-dasharray="55 6 6 6"/>
  <line x1="254" y1="1087" x2="401" y2="1087" stroke-dasharray="55 6 6 6"/>
  <line x1="251" y1="1094" x2="441" y2="1094" stroke-dasharray="5 3"/>
  <line x1="250" y1="1101" x2="401" y2="1101" stroke-dasharray="55 6 6 6"/>
  <line x1="240" y1="1140" x2="406" y2="1140" stroke-dasharray="55 6 6 6"/>
  <line x1="232" y1="1168" x2="441" y2="1168" stroke-dasharray="55 6 6 6"/>
  <line x1="261" y1="1058" x2="231" y2="1172" stroke-dasharray="7 5"/>
  <line x1="406" y1="1060" x2="406" y2="1168" stroke-dasharray="4 3"/>
  <line x1="441" y1="1076" x2="441" y2="1168" stroke-dasharray="4 3"/>
  <line x1="406" y1="1060" x2="426" y2="1060" stroke-dasharray="4 3"/>
  <line x1="406" y1="1076" x2="441" y2="1076" stroke-dasharray="4 3"/>
  <line x1="406" y1="1127" x2="441" y2="1127" stroke-dasharray="4 3"/>
  <line x1="424" y1="1078" x2="424" y2="1127" stroke-dasharray="4 3"/>
  <line x1="413" y1="1113" x2="430" y2="1113" stroke-dasharray="4 3"/>
  <path d="M431,1095 h10 M436,1090 v10 M431,1147 h10 M436,1142 v10" stroke-width=".8"/>
</g>
<g stroke="#333" stroke-width="1" fill="#fff">
  <circle cx="424" cy="1074" r="3"/><path d="M421,1074h6M424,1071v6" stroke-width=".7"/>
  <circle cx="424" cy="1113" r="3"/><path d="M421,1113h6M424,1110v6" stroke-width=".7"/>
  <circle cx="436" cy="1068" r="4.5"/><path d="M429,1068h2.5M440.5,1068h2.5M436,1061v2.5M436,1072.5v2.5" stroke-width=".8"/>
  <circle cx="436" cy="1120" r="4.5"/><path d="M429,1120h2.5M440.5,1120h2.5M436,1113v2.5M436,1124.5v2.5" stroke-width=".8"/>
</g>
<g stroke="#333" stroke-width=".9" fill="none">
  <line x1="424" y1="1013" x2="424" y2="1070"/>
  <line x1="436" y1="1013" x2="436" y2="1063"/>
  <line x1="400" y1="1017" x2="424" y2="1017" marker-end="url(#a)"/>
  <line x1="468" y1="1017" x2="436" y2="1017" marker-end="url(#a)"/>
  <line x1="350" y1="1018" x2="398" y2="1018"/>
  <line x1="398" y1="1018" x2="422" y2="1070" marker-end="url(#a)"/>
  <line x1="441" y1="1068" x2="488" y2="1068"/>
  <line x1="428" y1="1074" x2="488" y2="1074"/>
  <line x1="441" y1="1113" x2="488" y2="1113"/>
  <line x1="483" y1="1040" x2="483" y2="1068" marker-end="url(#a)"/>
  <line x1="483" y1="1074" x2="483" y2="1113" marker-start="url(#a)" marker-end="url(#a)"/>
</g>
<g font-size="14" text-anchor="middle">
  <text x="430" y="1011">Y</text>
  <text transform="translate(477,1048) rotate(-90)">S</text>
  <text transform="translate(477,1092) rotate(-90)">XX</text>
</g>
<text x="350" y="1015" font-size="12.5" textLength="43">2×Φd</text>

<g stroke="#333" stroke-width="1">
  <path d="M631,1066 C640,1052 647,1044 653,1041 L653,1066 Z" fill="#ddd"/>
  <path d="M653,1041 C658,1038 662,1037 666,1037 L680,1036 L680,1066 L664,1066 L664,1049 L653,1049 Z" fill="#bbb"/>
  <rect x="653" y="1049" width="11" height="15" fill="#ddd"/>
  <line x1="658.5" y1="1054" x2="658.5" y2="1059" stroke-width=".8"/>
  <path d="M648,1066 V1063 H670 V1066" fill="none"/>
  <line x1="631" y1="1066" x2="728" y2="1066" fill="none"/>
  <line x1="680" y1="1063" x2="728" y2="1063" fill="none" stroke-width=".8"/>
</g>
<g stroke="#333" stroke-width=".9" fill="none">
  <line x1="720" y1="1035" x2="720" y2="1063" marker-end="url(#a)"/>
  <line x1="720" y1="1100" x2="720" y2="1066" marker-end="url(#a)"/>
  <line x1="648" y1="1066" x2="648" y2="1112"/>
  <line x1="670" y1="1066" x2="670" y2="1112"/>
  <line x1="627" y1="1108" x2="648" y2="1108" marker-end="url(#a)"/>
  <line x1="712" y1="1108" x2="670" y2="1108" marker-end="url(#a)"/>
</g>
<text transform="translate(716,1045) rotate(-90)" font-size="14" text-anchor="middle">R</text>
<text x="683" y="1104" font-size="14">ΦD</text>
<text x="599" y="1150" font-size="16" textLength="100">底面侧配管部</text>
<text x="596" y="1169" font-size="16" textLength="100">(适合O形圈)</text>

<!-- ================= TABLE 3 ================= -->
<text x="285" y="1216" font-size="12" textLength="158">底面集中配管用配管孔尺寸表</text>
<text x="647" y="1216" font-size="12" textLength="128">(安装面按此尺寸加工。)</text>
<g>
  <rect x="285" y="1223" width="490" height="22" fill="#b3b3b3"/>
  <rect x="285" y="1245" width="490" height="20" fill="#fff"/>
  <rect x="285" y="1265" width="375" height="21" fill="#e3e3e3"/>
  <g stroke="#8a8a8a" stroke-width="1">
    <line x1="285" y1="1245" x2="775" y2="1245"/>
    <line x1="285" y1="1265" x2="660" y2="1265"/>
    <line x1="285" y1="1286" x2="775" y2="1286" stroke="#777" stroke-width="1.4"/>
    <line x1="380" y1="1223" x2="380" y2="1286"/><line x1="425" y1="1223" x2="425" y2="1286"/><line x1="470" y1="1223" x2="470" y2="1286"/><line x1="517" y1="1223" x2="517" y2="1286"/><line x1="563" y1="1223" x2="563" y2="1286"/><line x1="612" y1="1223" x2="612" y2="1286"/><line x1="660" y1="1223" x2="660" y2="1286"/>
  </g>
  <g font-size="13" text-anchor="middle">
    <text x="332" y="1239">型号</text><text x="402" y="1239">WX</text><text x="447" y="1239">Y</text><text x="493" y="1239">S</text><text x="540" y="1239">d</text><text x="587" y="1239">D</text><text x="636" y="1239">R</text><text x="717" y="1239">适合O形圈</text>
    <text x="332" y="1260">MY1H16<tspan class="bx">□</tspan></text><text x="402" y="1260">22</text><text x="447" y="1260">6.5</text><text x="493" y="1260">4</text><text x="540" y="1260">4</text><text x="587" y="1260">8.4</text><text x="636" y="1260">1.1</text>
    <text x="332" y="1280">MY1H20<tspan class="bx">□</tspan></text><text x="402" y="1280">24</text><text x="447" y="1280">8</text><text x="493" y="1280">6</text><text x="540" y="1280">4</text><text x="587" y="1280">8.4</text><text x="636" y="1280">1.1</text>
    <text x="717" y="1270">C6</text>
  </g>
</g>
</svg>
</body></html>
